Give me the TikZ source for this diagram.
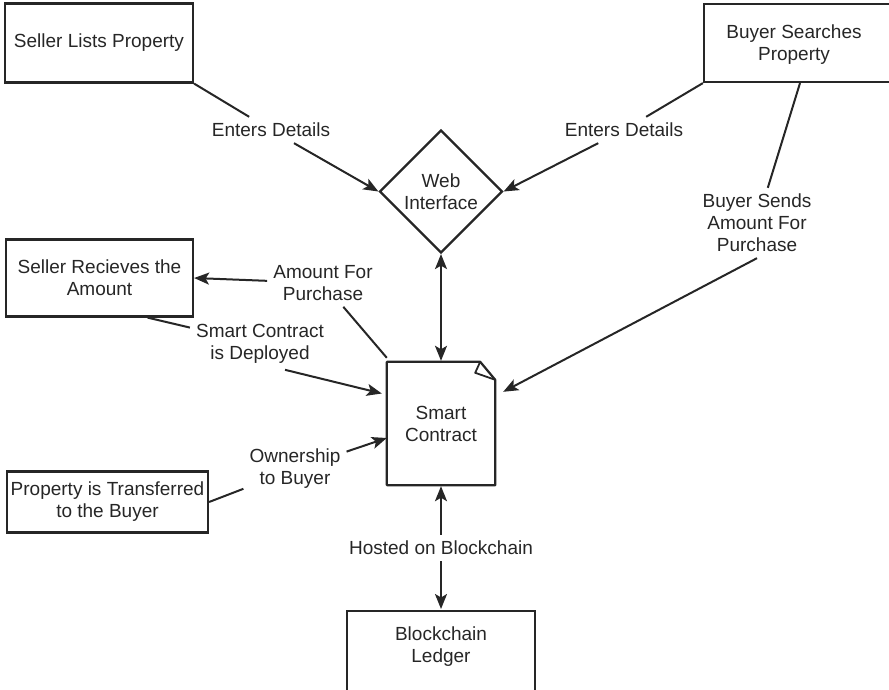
\documentclass[tikz,border=0pt]{standalone}
\usepackage{fontspec}
\setmainfont{Liberation Sans}
\usetikzlibrary{shapes.geometric,arrows.meta,calc}

\begin{document}
\begin{tikzpicture}[x=1pt,y=-1pt,
  every node/.style={font=\fontsize{19}{22}\selectfont, text=black!85},
  box/.style={draw=black!85, line width=2.2pt, rectangle, align=center, inner sep=0pt},
  lbl/.style={align=center, inner sep=6pt},
  link/.style={draw=black!85, line width=2pt},
  arr/.style={link, -{Stealth[length=15pt,width=12pt,inset=3.5pt]}},
  darr/.style={link, {Stealth[length=15pt,width=12pt,inset=3.5pt]}-{Stealth[length=15pt,width=12pt,inset=3.5pt]}}]
\useasboundingbox (0,0) rectangle (889,690);

% process boxes
\node[box, minimum width=188pt, minimum height=79pt] (slp) at (99,43) {Seller Lists Property};
\node[box, minimum width=192pt, minimum height=78pt] (bsp) at (800,43) {};
\node[align=center] (bsptxt) at (794,45) {Buyer Searches\\Property};
\node[diamond, draw=black!85, line width=2.2pt, minimum width=123pt, minimum height=123pt,
      inner sep=0pt, align=center] (web) at (441,191.5) {Web\\Interface};
\node[box, minimum width=187pt, minimum height=77pt] (sra) at (99.5,278) {Seller Recieves the\\Amount};
\node[box, minimum width=201pt, minimum height=61pt] (pt) at (107.5,502) {Property is Transferred\\to the Buyer};

% smart contract document with folded corner
\node[align=center, minimum width=108pt, minimum height=123pt, inner sep=0pt] (sc) at (441,423.5) {Smart\\Contract};
\draw[black!85, line width=2.2pt, line join=round]
  (sc.north west) -- ([xshift=-15pt]sc.north east) -- ([yshift=-18pt]sc.north east)
  -- (sc.south east) -- (sc.south west) -- cycle;
\draw[black!85, line width=1.8pt, line join=round]
  ([xshift=-15pt]sc.north east) -- ([xshift=-20pt,yshift=-11pt]sc.north east) -- ([yshift=-18pt]sc.north east);

% ledger
\node[box, minimum width=188pt, minimum height=110pt, anchor=north] (led) at (441,610) {};
\node[align=center] (ledtxt) at (441,647) {Blockchain\\Ledger};

% connector labels
\node[lbl] (ed1) at (271,130) {Enters Details};
\node[lbl] (ed2) at (624,130) {Enters Details};
\node[lbl] (bsa) at (757,223) {Buyer Sends\\Amount For\\Purchase};
\node[lbl] (afp) at (323,283) {Amount For\\Purchase};
\node[lbl] (scd) at (260,344) {Smart Contract\\is Deployed};
\node[lbl] (otb) at (295,469) {Ownership\\to Buyer};
\node[lbl] (hob) at (441,548) {Hosted on Blockchain};

% connectors
\draw[link] (slp.south east) -- (ed1);
\draw[arr] (ed1) -- (web.west);
\draw[link] (bsp.south west) -- (ed2);
\draw[arr] (ed2) -- (web.east);
\draw[link] (bsp.south) -- (bsa);
\draw[arr] (bsa.south) -- ([xshift=8pt,yshift=-30pt]sc.north east);
\draw[darr] (web.south) -- ([yshift=1pt]sc.north);
\draw[link] ([yshift=4pt]sc.north west) -- (afp);
\draw[arr] (afp) -- (sra.east);
\draw[link] ([xshift=48pt]sra.south) -- (scd);
\draw[arr] ([xshift=25pt]scd.south) -- ([xshift=-5pt,yshift=30pt]sc.west);
\draw[link] (pt.east) -- (otb);
\draw[arr] (otb) -- ([yshift=-14.5pt]sc.west);
\draw[arr] (hob) -- ([yshift=-1pt]sc.south);
\draw[arr] (hob) -- ([yshift=1pt]led.north);
\end{tikzpicture}
\end{document}
